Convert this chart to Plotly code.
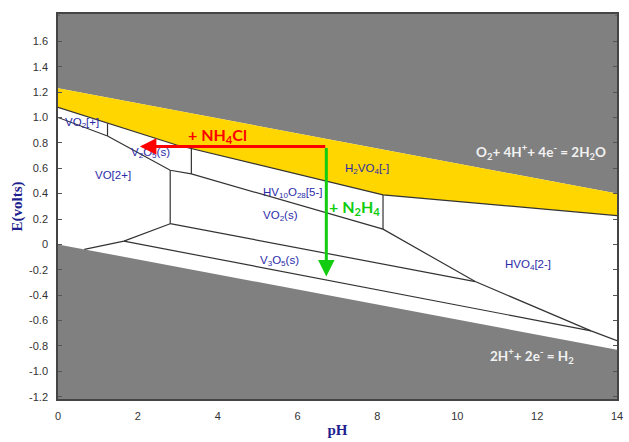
import plotly.graph_objects as go

# ---------------- data ----------------
# water stability lines
ph_o2 = [0.0, 14.0]
e_o2 = [1.23, 0.40]
ph_h2 = [0.0, 14.0]
e_h2 = [0.0, -0.83]

# lower edge of the yellow band
ph_yellow = [0.0, 2.97, 8.14, 14.0]
e_yellow = [1.08, 0.783, 0.39, 0.227]

# species boundaries
ph_vo2p_vo2p = [0.0, 1.24]
e_vo2p_vo2p = [1.00, 0.854]
ph_v1 = [1.24, 1.24]
e_v1 = [0.854, 0.952]
ph_v2o5_vo = [1.24, 2.81, 3.34, 8.14, 10.45, 13.35, 14.0]
e_v2o5_vo = [0.854, 0.584, 0.555, 0.12, -0.293, -0.681, -0.759]
ph_v2 = [2.81, 2.81]
e_v2 = [0.584, 0.163]
ph_v3 = [3.34, 3.34]
e_v3 = [0.555, 0.755]
ph_v4 = [8.14, 8.14]
e_v4 = [0.12, 0.39]
ph_low1 = [0.66, 1.65, 2.81]
e_low1 = [-0.039, 0.026, 0.163]
ph_vo2_v3o5 = [2.81, 10.45]
e_vo2_v3o5 = [0.163, -0.293]
ph_v3o5_low = [1.65, 13.35]
e_v3o5_low = [0.026, -0.681]

# species labels
label_text = ["VO<sub>2</sub>[+]", "V<sub>2</sub>O<sub>5</sub>(s)", "VO[2+]",
              "HV<sub>10</sub>O<sub>28</sub>[5-]", "VO<sub>2</sub>(s)",
              "H<sub>2</sub>VO<sub>4</sub>[-]", "V<sub>3</sub>O<sub>5</sub>(s)",
              "HVO<sub>4</sub>[2-]"]
label_ph = [0.61, 2.32, 1.38, 5.87, 5.57, 7.73, 5.54, 11.77]
label_e = [0.957, 0.718, 0.55, 0.407, 0.226, 0.596, -0.129, -0.163]

# reagent arrows
nh4cl_ph = [6.73, 2.05]
nh4cl_e = [0.772, 0.772]
n2h4_ph = [6.72, 6.72]
n2h4_e = [0.772, -0.253]

# axis ticks
x_ticks = [0, 2, 4, 6, 8, 10, 12, 14]
y_ticks = [-1.2, -1.0, -0.8, -0.6, -0.4, -0.2, 0, 0.2, 0.4, 0.6, 0.8, 1.0, 1.2, 1.4, 1.6]
y_ticktext = ["-1.2", "-1.0", "-0.8", "-0.6", "-0.4", "-0.2", "0", "0.2", "0.4",
              "0.6", "0.8", "1.0", "1.2", "1.4", "1.6"]

X_RANGE = [0, 14]
Y_RANGE = [-1.218, 1.815]

GRAY = "#808080"
YELLOW = "#FFD600"
LINE = "#333333"
BLUE = "#2B2BA8"

fig = go.Figure()

# gray region above O2 line
fig.add_trace(go.Scatter(
    x=ph_o2 + [X_RANGE[1], X_RANGE[0]],
    y=e_o2 + [Y_RANGE[1], Y_RANGE[1]],
    fill="toself", fillcolor=GRAY, line=dict(width=0), mode="lines",
    hoverinfo="skip", showlegend=False))

# gray region below H2 line
fig.add_trace(go.Scatter(
    x=ph_h2 + [X_RANGE[1], X_RANGE[0]],
    y=e_h2 + [Y_RANGE[0], Y_RANGE[0]],
    fill="toself", fillcolor=GRAY, line=dict(width=0), mode="lines",
    hoverinfo="skip", showlegend=False))

# yellow band
fig.add_trace(go.Scatter(
    x=ph_o2 + ph_yellow[::-1],
    y=e_o2 + e_yellow[::-1],
    fill="toself", fillcolor=YELLOW, line=dict(width=0), mode="lines",
    hoverinfo="skip", showlegend=False))

# boundaries
for px_, ey_ in [(ph_yellow, e_yellow), (ph_vo2p_vo2p, e_vo2p_vo2p), (ph_v1, e_v1),
                 (ph_v2o5_vo, e_v2o5_vo), (ph_v2, e_v2), (ph_v3, e_v3), (ph_v4, e_v4),
                 (ph_low1, e_low1), (ph_vo2_v3o5, e_vo2_v3o5), (ph_v3o5_low, e_v3o5_low)]:
    fig.add_trace(go.Scatter(x=px_, y=ey_, mode="lines",
                             line=dict(color=LINE, width=1.2),
                             hoverinfo="skip", showlegend=False))

annotations = []
for t, xx, yy in zip(label_text, label_ph, label_e):
    annotations.append(dict(x=xx, y=yy, xref="x", yref="y", text=t, showarrow=False,
                            font=dict(family="Liberation Sans, Arial", size=11.5, color=BLUE)))

# arrows
annotations.append(dict(x=nh4cl_ph[1], y=nh4cl_e[1], ax=nh4cl_ph[0], ay=nh4cl_e[0],
                        xref="x", yref="y", axref="x", ayref="y", text="",
                        showarrow=True, arrowhead=2, arrowsize=1.1, arrowwidth=3,
                        arrowcolor="#FF0000"))
annotations.append(dict(x=n2h4_ph[1], y=n2h4_e[1], ax=n2h4_ph[0], ay=n2h4_e[0],
                        xref="x", yref="y", axref="x", ayref="y", text="",
                        showarrow=True, arrowhead=2, arrowsize=1.1, arrowwidth=3,
                        arrowcolor="#11CC11"))

annotations.append(dict(x=4.0, y=0.861, xref="x", yref="y", text="<b>+ NH<sub>4</sub>Cl</b>",
                        showarrow=False, font=dict(family="Lato, Open Sans", size=16, color="#FF0000")))
annotations.append(dict(x=7.42, y=0.291, xref="x", yref="y", text="<b>+ N<sub>2</sub>H<sub>4</sub></b>",
                        showarrow=False, font=dict(family="Lato, Open Sans", size=16, color="#11CC11")))
annotations.append(dict(x=12.09, y=0.724, xref="x", yref="y",
                        text="<b>O<sub>2</sub>+ 4H<sup>+</sup>+ 4e<sup>-</sup> = 2H<sub>2</sub>O</b>",
                        showarrow=False, font=dict(family="Lato, Open Sans", size=13.5, color="#F2F2F2")))
annotations.append(dict(x=11.86, y=-0.883, xref="x", yref="y",
                        text="<b>2H<sup>+</sup>+ 2e<sup>-</sup> = H<sub>2</sub></b>",
                        showarrow=False, font=dict(family="Lato, Open Sans", size=13.5, color="#F2F2F2")))

fig.update_layout(
    width=629, height=442,
    margin=dict(l=58, r=6, t=14, b=38),
    paper_bgcolor="white", plot_bgcolor="white",
    annotations=annotations,
    font=dict(family="Liberation Sans, Arial", size=11, color="#333333"),
)
fig.update_xaxes(range=X_RANGE, tickvals=x_ticks, showgrid=False, zeroline=False,
                 showline=True, linecolor="#444444", linewidth=1.5, mirror=True,
                 ticks="", ticklabelstandoff=6,
                 title=dict(text="<b>pH</b>", standoff=4,
                            font=dict(family="Liberation Serif, Times New Roman", size=15, color="#1F1F8F")))
fig.update_yaxes(range=Y_RANGE, tickvals=y_ticks, ticktext=y_ticktext, showgrid=False,
                 zeroline=False, showline=True, linecolor="#444444", linewidth=1.5,
                 mirror="allticks", ticks="inside", ticklen=4, tickcolor="#555555",
                 ticklabelstandoff=6,
                 minor=dict(ticks="inside", ticklen=2, nticks=5, tickcolor="#666666"),
                 title=dict(text="<b>E(volts)</b>", standoff=3,
                            font=dict(family="Liberation Serif, Times New Roman", size=15, color="#1F1F8F")))

fig.write_html("out.html", config={"displayModeBar": False},
               post_script="document.body.style.margin='0';document.body.style.overflow='hidden';")
